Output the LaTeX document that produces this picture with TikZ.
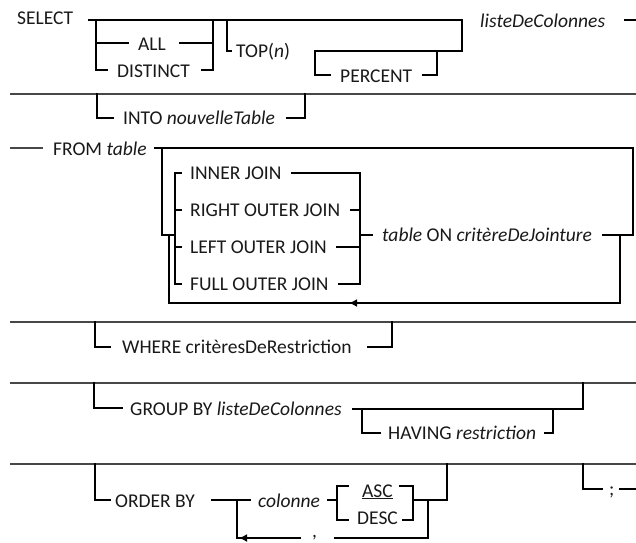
\documentclass[tikz,border=0pt]{standalone}
\usepackage{fontspec}
\setmainfont{Carlito}
\usetikzlibrary{arrows.meta}
\begin{document}
\begin{tikzpicture}[x=1pt,y=-1pt,
  sepline/.style={line width=1.3pt, black!72},
  brk/.style={line width=1.9pt, black, line join=miter, line cap=rect},
  lbl/.style={anchor=base west, inner sep=0pt, font=\fontsize{19.5}{23}\selectfont, text=black!90},
  larrow/.style={-{Latex[length=8pt,width=8pt]}, line width=1.9pt}]
\useasboundingbox[fill=white] (0,0) rectangle (636,542);

% ---------- Row 1 : SELECT ----------
\node[lbl] (select) at (17,24) {SELECT};
\draw[brk] (89,20) -- (462,20) -- (462,51) -- (315,51) -- (315,75) -- (330,75);
\draw[brk] (423,75) -- (437,75) -- (437,51);
\node[lbl] (liste) at (480,27) {\itshape listeDeColonnes};
\draw[brk] (625,20) -- (636,20);
% ALL / DISTINCT
\draw[brk] (96,20) -- (96,70) -- (107,70);
\draw[brk] (96,43) -- (128,43);
\node[lbl] (all) at (138,50) {ALL};
\draw[brk] (180,43) -- (213,43);
\node[lbl] (distinct) at (117,77) {DISTINCT};
\draw[brk] (202,70) -- (213,70) -- (213,20);
% TOP(n) / PERCENT
\draw[brk] (227,20) -- (227,51) -- (231,51);
\node[lbl] (top) at (236,57) {TOP(\textit{n})};
\node[lbl] (percent) at (340,82) {PERCENT};

% ---------- Row 2 : INTO ----------
\draw[sepline] (10,94) -- (636,94);
\draw[brk] (97,94) -- (97,118) -- (113,118);
\node[lbl] (into) at (123,124) {INTO \textit{nouvelleTable}};
\draw[brk] (287,118) -- (305,118) -- (305,94);

% ---------- Row 3 : FROM ----------
\draw[sepline] (10,148) -- (43,148);
\node[lbl] (from) at (53,155) {FROM \textit{table}};
\draw[brk] (155,148) -- (633,148) -- (633,235) -- (603,235);
\draw[brk] (162,148) -- (162,235) -- (175,235);
\draw[brk] (181,173) -- (175,173) -- (175,284) -- (181,284);
\draw[brk] (175,210) -- (181,210);
\draw[brk] (175,247) -- (181,247);
\node[lbl] (inner) at (190,179) {INNER JOIN};
\node[lbl] (right) at (190,216) {RIGHT OUTER JOIN};
\node[lbl] (left) at (190,253) {LEFT OUTER JOIN};
\node[lbl] (full) at (190,290) {FULL OUTER JOIN};
\draw[brk] (292,173) -- (360,173) -- (360,284) -- (339,284);
\draw[brk] (351,210) -- (360,210);
\draw[brk] (337,247) -- (360,247);
\draw[brk] (360,235) -- (372,235);
\node[lbl] (tableon) at (382,241) {\textit{table} ON \textit{critèreDeJointure}};
\draw[brk] (620,235) -- (620,303) -- (356,303);
\draw[larrow] (360,303) -- (349,303);
\draw[brk] (352,303) -- (169,303) -- (169,235);

% ---------- Row 4 : WHERE ----------
\draw[sepline] (10,322) -- (636,322);
\draw[brk] (95,322) -- (95,347) -- (110,347);
\node[lbl] (where) at (122,353) {WHERE critèresDeRestriction};
\draw[brk] (368,347) -- (392,347) -- (392,322);

% ---------- Row 5 : GROUP BY ----------
\draw[sepline] (10,383) -- (636,383);
\draw[brk] (94,383) -- (94,408) -- (122,408);
\node[lbl] (group) at (130,415) {GROUP BY \textit{listeDeColonnes}};
\draw[brk] (353,409) -- (583,409) -- (583,383);
\draw[brk] (362,409) -- (362,433) -- (380,433);
\node[lbl] (having) at (388,439) {HAVING \textit{restriction}};
\draw[brk] (545,433) -- (553,433) -- (553,409);

% ---------- Row 6 : ORDER BY ----------
\draw[sepline] (10,464) -- (636,464);
\draw[brk] (95,464) -- (95,500) -- (110,500);
\node[lbl] (order) at (115,507) {ORDER BY};
\draw[brk] (212,500) -- (250,500);
\draw[brk] (237,500) -- (237,538);
\node[lbl] (colonne) at (258,507) {\textit{colonne}};
\draw[brk] (328,500) -- (337,500);
\draw[brk] (348,486) -- (337,486) -- (337,520) -- (348,520);
\node[lbl] (asc) at (362,497) {\underline{ASC}};
\node[lbl] (desc) at (357,524) {DESC};
\draw[brk] (400,486) -- (413,486) -- (413,520) -- (403,520);
\draw[brk] (413,500) -- (447,500) -- (447,464);
\draw[brk] (428,500) -- (428,538) -- (335,538);
\node[lbl] (comma) at (312,537) {,};
\draw[brk] (300,538) -- (245,538);
\draw[larrow] (250,538) -- (239,538);
\draw[brk] (241,538) -- (237,538);
% semicolon
\draw[brk] (583,464) -- (583,489) -- (602,489);
\node[lbl] (semi) at (609,495) {;};
\draw[brk] (620,489) -- (636,489);
\end{tikzpicture}
\end{document}
